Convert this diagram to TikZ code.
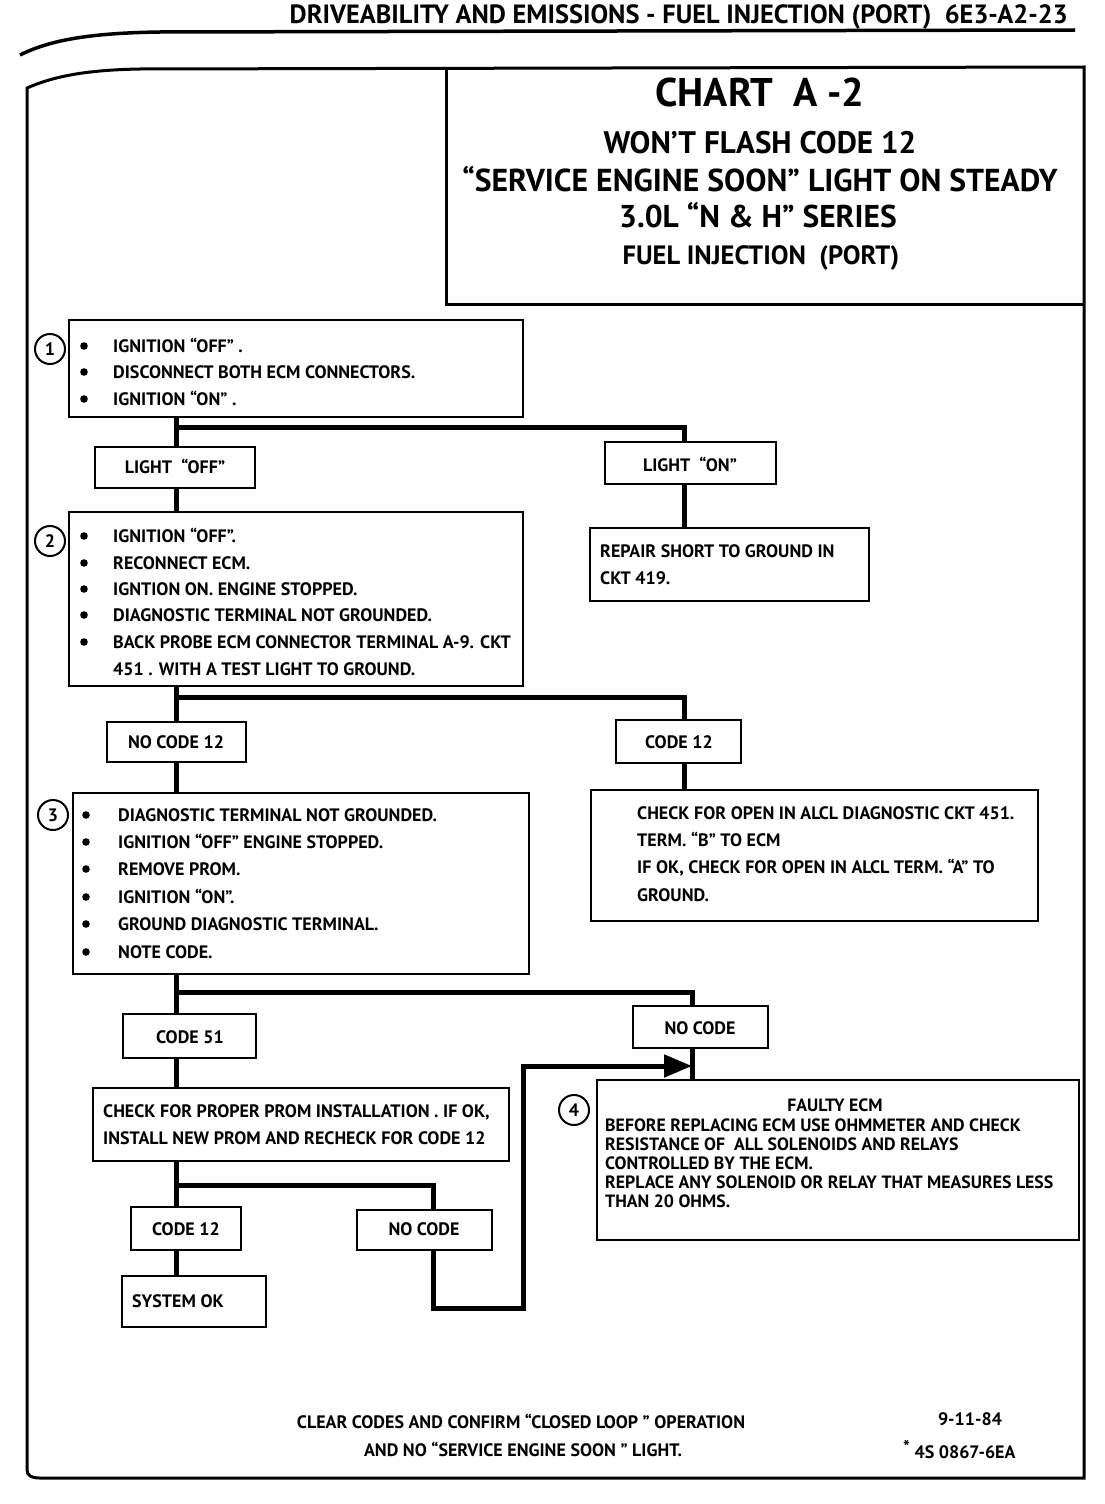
\documentclass[tikz,border=0pt]{standalone}
\usepackage{fontspec}
\setmainfont{PT Sans}
\usetikzlibrary{arrows.meta}
\newcommand\mybox[5]{\node[box, minimum width={(#4-#2)*1pt}, minimum height={(#5-#3)*1pt}] (#1) at (#2,#3) {};}
\newcommand\bul[2]{\fill (#1,#2) circle[radius=3.8pt];}
\begin{document}
\begin{tikzpicture}[x=1pt,y=-1pt,
  box/.style={draw, line width=2pt, inner sep=0pt, outer sep=0pt, anchor=north west},
  conn/.style={line width=5pt, line join=miter},
  txt/.style={anchor=base west, inner sep=0pt, font=\fontsize{18}{20}\selectfont\bfseries},
  stxt/.style={anchor=base west, inner sep=0pt, font=\fontsize{17.8}{20}\selectfont\bfseries},
  ctxt/.style={anchor=base, inner sep=0pt, font=\fontsize{18}{20}\selectfont\bfseries},
  ttl/.style={anchor=base, inner sep=0pt, font=\fontsize{31.5}{34}\selectfont\bfseries},
  num/.style={draw, circle, line width=2pt, minimum size=30pt, inner sep=0pt, font=\fontsize{18}{18}\selectfont\bfseries},
  frame/.style={line width=3pt}
]
\useasboundingbox (0,0) rectangle (1104,1504);
% header
\node[anchor=base east, inner sep=0pt, font=\fontsize{26.4}{28}\selectfont\bfseries] (hdr) at (1068,24) {DRIVEABILITY AND EMISSIONS - FUEL INJECTION (PORT)\ \ 6E3-A2-23};
\draw[line width=3.5pt] (20,55) .. controls (50,40) and (90,33) .. (160,32) -- (1075,30);
% outer frame
\draw[frame] (27,1470) -- (27,88) .. controls (50,78) and (80,70) .. (140,69) -- (1084,67) -- (1084,1478) -- (40,1478) .. controls (32,1478) and (27,1476) .. (27,1470);
% title box
\draw[frame] (446,67) -- (446,304) -- (1084,304);
\node[ttl, font=\fontsize{40}{44}\selectfont\bfseries] (t1) at (760,106) {CHART\ \ A -2};
\node[ttl, font=\fontsize{31.1}{34}\selectfont\bfseries] (t2) at (760,153) {WON’T FLASH CODE 12};
\node[ttl, font=\fontsize{31.7}{34}\selectfont\bfseries] (t3) at (760,191) {“SERVICE ENGINE SOON” LIGHT ON STEADY};
\node[ttl] (t4) at (758,227) {3.0L “N \& H” SERIES};
\node[ttl, font=\fontsize{26.5}{28}\selectfont\bfseries] (t5) at (761,264) {FUEL INJECTION\ \ (PORT)};

% spine coordinates
\coordinate (sp) at (176,0);
\coordinate (rx) at (684,0);
\coordinate (rx2) at (692,0);
\coordinate (bx) at (433,0);

% box 1
\mybox{b1}{69}{320}{523}{417}
\node[num] (c1) at (50,349) {1};
\bul{84}{346}\bul{84}{372}\bul{84}{399}
\node[txt] (b1a) at (113,352) {IGNITION “OFF” .};
\node[txt] (b1b) at (113,378) {DISCONNECT BOTH ECM CONNECTORS.};
\node[txt] (b1c) at (113,405) {IGNITION “ON” .};

\mybox{loff}{95}{447}{255}{488}
\node[ctxt] (loffT) at (175,473) {LIGHT\ \ “OFF”};
\mybox{lon}{605}{442}{776}{484}
\node[ctxt] (lonT) at (690,471) {LIGHT\ \ “ON”};
\mybox{rep}{590}{528}{869}{601}
\node[txt] (repa) at (600,557) {REPAIR SHORT TO GROUND IN};
\node[txt] (repb) at (600,584) {CKT 419.};

% box 2
\mybox{b2}{69}{512}{523}{686}
\node[num] (c2) at (50,541) {2};
\bul{84}{536}\bul{84}{563}\bul{84}{589}\bul{84}{615}\bul{84}{642}
\node[txt] (b2a) at (113,542) {IGNITION “OFF”.};
\node[txt] (b2b) at (113,569) {RECONNECT ECM.};
\node[txt] (b2c) at (113,595) {IGNTION ON. ENGINE STOPPED.};
\node[txt] (b2d) at (113,621) {DIAGNOSTIC TERMINAL NOT GROUNDED.};
\node[txt] (b2e) at (113,648) {BACK PROBE ECM CONNECTOR TERMINAL A-9. CKT};
\node[txt] (b2f) at (113,675) {451 . WITH A TEST LIGHT TO GROUND.};

\mybox{nc12}{107}{722}{246}{762}
\node[ctxt] (nc12T) at (176,748) {NO CODE 12};
\mybox{c12}{616}{720}{741}{763}
\node[ctxt] (c12T) at (679,748) {CODE 12};
\mybox{chk}{591}{790}{1038}{921}
\node[txt] (chka) at (637,819) {CHECK FOR OPEN IN ALCL DIAGNOSTIC CKT 451.};
\node[txt] (chkb) at (637,846) {TERM. “B” TO ECM};
\node[txt] (chkc) at (637,873) {IF OK, CHECK FOR OPEN IN ALCL TERM. “A” TO};
\node[txt] (chkd) at (637,901) {GROUND.};

% box 3
\mybox{b3}{73}{793}{529}{974}
\node[num] (c3) at (53,815) {3};
\bul{86}{815}\bul{86}{842}\bul{86}{869}\bul{86}{897}\bul{86}{924}\bul{86}{952}
\node[txt] (b3a) at (118,821) {DIAGNOSTIC TERMINAL NOT GROUNDED.};
\node[txt] (b3b) at (118,848) {IGNITION “OFF” ENGINE STOPPED.};
\node[txt] (b3c) at (118,875) {REMOVE PROM.};
\node[txt] (b3d) at (118,903) {IGNITION “ON”.};
\node[txt] (b3e) at (118,930) {GROUND DIAGNOSTIC TERMINAL.};
\node[txt] (b3f) at (118,958) {NOTE CODE.};

\mybox{c51}{123}{1014}{256}{1058}
\node[ctxt] (c51T) at (190,1043) {CODE 51};
\mybox{nc1}{633}{1006}{768}{1048}
\node[ctxt] (nc1T) at (700,1034) {NO CODE};
\mybox{fe}{597}{1080}{1079}{1240}
\node[num] (c4) at (574,1110) {4};
\node[anchor=base, inner sep=0pt, font=\fontsize{17.8}{20}\selectfont\bfseries] (feT) at (835,1111) {FAULTY ECM};
\node[stxt] (fea) at (605,1131) {BEFORE REPLACING ECM USE OHMMETER AND CHECK};
\node[stxt] (feb) at (605,1150) {RESISTANCE OF\ \ ALL SOLENOIDS AND RELAYS};
\node[stxt] (fec) at (605,1169) {CONTROLLED BY THE ECM.};
\node[stxt] (fed) at (605,1188) {REPLACE ANY SOLENOID OR RELAY THAT MEASURES LESS};
\node[stxt] (fee) at (605,1207) {THAN 20 OHMS.};

\mybox{prom}{93}{1088}{509}{1161}
\node[txt] (proma) at (103,1117) {CHECK FOR PROPER PROM INSTALLATION . IF OK,};
\node[txt] (promb) at (103,1144) {INSTALL NEW PROM AND RECHECK FOR CODE 12};

\mybox{c12b}{131}{1207}{241}{1250}
\node[ctxt] (c12bT) at (186,1235) {CODE 12};
\mybox{nc2}{357}{1210}{492}{1250}
\node[ctxt] (nc2T) at (424,1235) {NO CODE};
\mybox{sok}{122}{1276}{266}{1327}
\node[txt] (sokT) at (132,1307) {SYSTEM OK};

% connectors
\coordinate (j1) at (176,427);
\coordinate (j2) at (176,697);
\coordinate (j3) at (176,992);
\coordinate (j4) at (176,1185);
\coordinate (k1) at (523,1308);
\coordinate (tip) at (692,1066);
\draw[conn] (b1.south -| sp) -- (loff.north -| sp);
\draw[conn] (j1) -| (lon.north -| rx);
\draw[conn] (lon.south -| rx) -- (rep.north -| rx);
\draw[conn] (loff.south -| sp) -- (b2.north -| sp);
\draw[conn] (b2.south -| sp) -- (nc12.north -| sp);
\draw[conn] (j2) -| (c12.north -| rx);
\draw[conn] (c12.south -| rx) -- (chk.north -| rx);
\draw[conn] (nc12.south -| sp) -- (b3.north -| sp);
\draw[conn] (b3.south -| sp) -- (c51.north -| sp);
\draw[conn] (j3) -| (nc1.north -| rx2);
\draw[conn] (nc1.south -| rx2) -- (fe.north -| rx2);
\draw[conn] (c51.south -| sp) -- (prom.north -| sp);
\draw[conn] (prom.south -| sp) -- (c12b.north -| sp);
\draw[conn] (j4) -| (nc2.north -| bx);
\draw[conn] (c12b.south -| sp) -- (sok.north -| sp);
\draw[conn, -{Triangle[length=28pt,width=22pt]}] (nc2.south -| bx) |- (k1) |- (tip);

% footer
\node[ctxt] (f1) at (521,1428) {CLEAR CODES AND CONFIRM “CLOSED LOOP ” OPERATION};
\node[ctxt] (f2) at (523,1456) {AND NO “SERVICE ENGINE SOON ” LIGHT.};
\node[ctxt] (f3) at (970,1425) {9-11-84};
\node[txt] (f4) at (903,1458) {\raisebox{5pt}{*}\ 4S 0867-6EA};
\end{tikzpicture}
\end{document}
